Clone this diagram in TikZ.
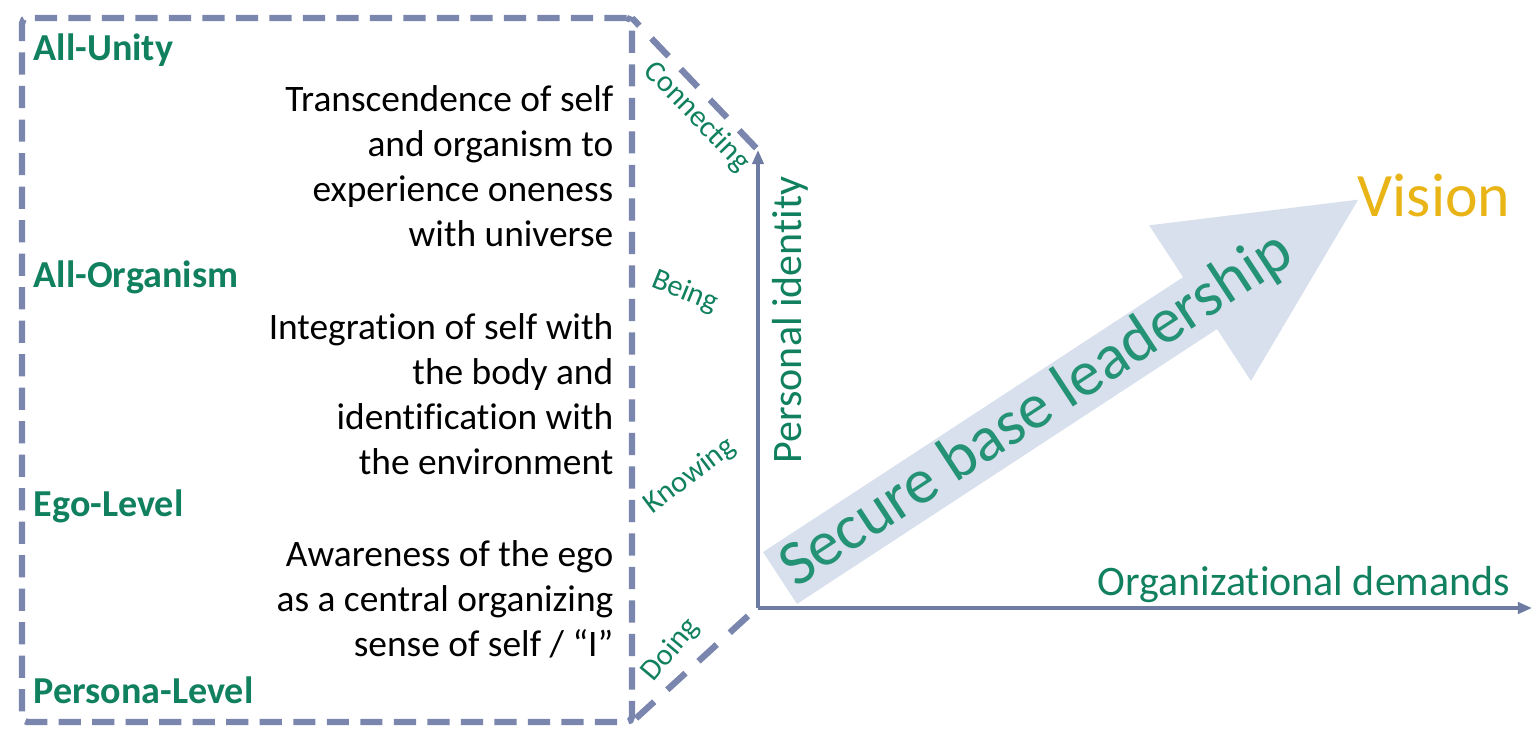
\documentclass[tikz,border=0pt]{standalone}
\usepackage{fontspec}
\setmainfont{Carlito}[Ligatures=NoCommon]
\usetikzlibrary{arrows.meta}
\definecolor{dashc}{RGB}{122,134,174}
\definecolor{axisc}{RGB}{110,124,164}
\definecolor{arrowfill}{RGB}{216,224,238}
\definecolor{lvlgreen}{RGB}{16,128,94}
\definecolor{tealtext}{RGB}{36,146,116}
\definecolor{visionc}{RGB}{232,180,22}
\tikzset{
  boxline/.style={draw=dashc, line width=1.8pt, dash pattern=on 6.3pt off 3.2pt},
  diagline/.style={draw=dashc, line width=1.8pt, dash pattern=on 7pt off 5pt},
  axisline/.style={draw=axisc, line width=0.9pt, -{Triangle[length=4pt,width=3.2pt]}},
  lvl/.style={text=lvlgreen, font=\fontsize{10.8}{13}\selectfont\bfseries, anchor=west, inner sep=0pt},
  desc/.style={text=black, font=\fontsize{10.6}{12.75}\selectfont, align=right, anchor=east, inner sep=0pt},
  side/.style={text=lvlgreen, font=\fontsize{8.6}{10}\selectfont, inner sep=0pt},
  axlabel/.style={text=lvlgreen, font=\fontsize{11.9}{14}\selectfont, inner sep=0pt}
}
\begin{document}
\begin{tikzpicture}[x=0.2835pt,y=-0.2835pt]
\useasboundingbox (0,0) rectangle (1535,742);
% box corners and axes
\coordinate (TL) at (22,18);
\coordinate (TR) at (632,18);
\coordinate (BR) at (632,722);
\coordinate (BL) at (22,722);
\coordinate (O) at (758,608);
\coordinate (YT) at (758,150);
\coordinate (XE) at (1532,608);
% dashed box
\draw[boxline, rounded corners=1.5pt] (TR) -- (TL) -- (BL) -- (BR) -- cycle;
% diagonals
\draw[diagline, dash phase=4pt] (TR) -- (YT);
\coordinate (OD) at (748,616);
\draw[diagline] (OD) -- (BR);
% big arrow
\begin{scope}[shift={(780,578)}, rotate=33.2]
  \fill[arrowfill] (0,-31) -- (502,-31) -- (502,-93) -- (691,0) -- (502,93) -- (502,31) -- (0,31) -- cycle;
\end{scope}
% axes
\draw[axisline] (O) -- (YT);
\draw[axisline] (O) -- (XE);
% level labels
\node[lvl] (unity) at (33,50) {All-Unity};
\node[lvl] (organism) at (33,277) {All-Organism};
\node[lvl] (ego) at (33,506) {Ego-Level};
\node[lvl] (persona) at (33,690) {Persona-Level};
% descriptions
\node[desc] (d1) at (614,166) {Transcendence of self\\and organism to\\experience oneness\\with universe};
\node[desc] (d2) at (614,394) {Integration of self with\\the body and\\identification with\\the environment};
\node[desc] (d3) at (614,599) {Awareness of the ego\\as a central organizing\\sense of self / “I”};
% side labels
\node[side, rotate=-46] (connecting) at (697,117) {Connecting};
\node[side, rotate=-22] (being) at (685,292) {Being};
\node[side, rotate=37] (knowing) at (690,476) {Knowing};
\node[side, rotate=50] (doing) at (671,650) {Doing};
% axis labels
\node[axlabel, rotate=90] (pid) at (790,320) {Personal identity};
\node[axlabel] (orgd) at (1304,585) {Organizational demands};
\node[text=visionc, font=\fontsize{17.5}{20}\selectfont, inner sep=0pt] (vision) at (1434,195) {Vision};
\node[text=tealtext, font=\fontsize{18.2}{21}\selectfont, rotate=33.2, inner sep=0pt] (sbl) at (1037,410) {Secure base leadership};
\end{tikzpicture}
\end{document}
